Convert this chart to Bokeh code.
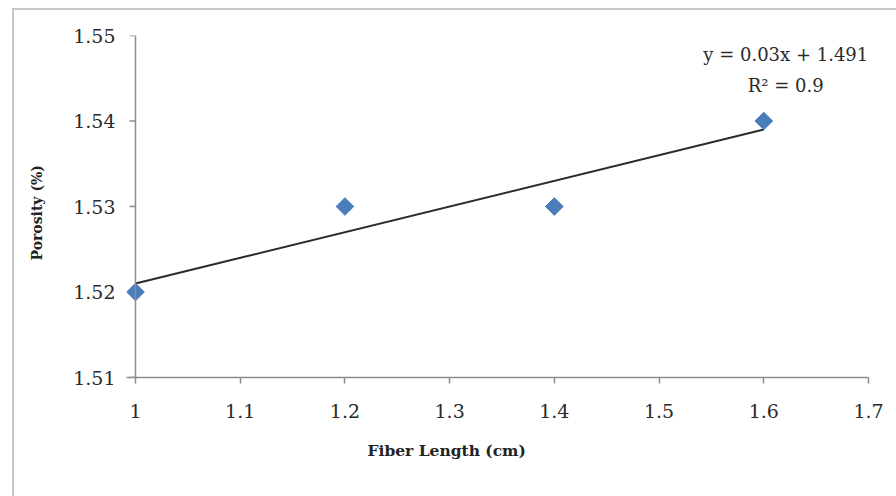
import numpy as np
from bokeh.plotting import figure
from bokeh.models import FixedTicker, Label, Title, Span
from bokeh.embed import file_html
from bokeh.resources import INLINE

fiber_length = [1.0, 1.2, 1.4, 1.6]
porosity = [1.52, 1.53, 1.53, 1.54]
x_ticks = [1.0, 1.1, 1.2, 1.3, 1.4, 1.5, 1.6, 1.7]
x_tick_labels = ["1", "1.1", "1.2", "1.3", "1.4", "1.5", "1.6", "1.7"]
y_ticks = [1.51, 1.52, 1.53, 1.54, 1.55]
y_tick_labels = ["1.51", "1.52", "1.53", "1.54", "1.55"]
equation_text = "y = 0.03x + 1.491"
r2_text = "R\u00b2 = 0.9"
x_title = "Fiber Length (cm)"
y_title = "Porosity (%)"

FONT = "DejaVu Serif"
BOX = "#c8c8c8"
AXIS = "#8c8c8c"

# a few pixels of room left of x=1 so the first marker is not cut by the frame
px = 0.7 / 733
x_pad = 9 * px

p = figure(width=896, height=496, output_backend="svg", toolbar_location=None,
           x_range=(x_ticks[0] - x_pad, x_ticks[-1]), y_range=(y_ticks[0], y_ticks[-1]),
           styles={"background": (f"linear-gradient({BOX},{BOX}) 12px 8px / 2px 100% no-repeat, "
                                  f"linear-gradient({BOX},{BOX}) 12px 8px / 100% 2px no-repeat, white")},
           min_border_left=126, min_border_right=28, min_border_top=35, min_border_bottom=119)
p.background_fill_color = "white"
p.border_fill_color = None
p.outline_line_color = None
p.grid.visible = False

for ax, ticks, labels in ((p.xaxis[0], x_ticks, x_tick_labels), (p.yaxis[0], y_ticks, y_tick_labels)):
    ax.ticker = FixedTicker(ticks=ticks)
    ax.major_label_overrides = {t: l for t, l in zip(ticks, labels)}
    ax.axis_line_color = AXIS
    ax.axis_line_width = 1.5
    ax.major_tick_line_color = AXIS
    ax.major_tick_line_width = 1.5
    ax.major_tick_in = 0
    ax.major_tick_out = 6
    ax.minor_tick_line_color = None
    ax.major_label_text_font = FONT
    ax.major_label_text_font_size = "19px"
    ax.major_label_text_color = "#2a2a2a"
p.xaxis.major_label_standoff = 20
# y axis: labels from the axis, line and ticks drawn at x = 1
p.yaxis.axis_line_color = None
p.yaxis.major_tick_line_color = None
p.yaxis.major_label_standoff = 5

p.add_layout(Span(location=x_ticks[0], dimension="height", line_color=AXIS, line_width=1.5))
p.segment(x0=[x_ticks[0] - 6 * px] * len(y_ticks), x1=[x_ticks[0]] * len(y_ticks),
          y0=y_ticks, y1=y_ticks, line_color=AXIS, line_width=1.5)

# trend line from least squares fit
slope, intercept = np.polyfit(fiber_length, porosity, 1)
xs = np.array([min(fiber_length), max(fiber_length)])
p.line(xs, slope * xs + intercept, line_color="#2b2b2b", line_width=2)

p.scatter(fiber_length, porosity, marker="square", size=12.5, angle=np.pi / 4,
          fill_color="#4a7ebb", line_color="#4a7ebb")

p.add_layout(Label(x=1.621, y=1.5478, text=equation_text, text_font=FONT,
                   text_font_size="18px", text_color="#2a2a2a",
                   text_align="center", text_baseline="middle"))
p.add_layout(Label(x=1.621, y=1.5441, text=r2_text, text_font=FONT,
                   text_font_size="18px", text_color="#2a2a2a",
                   text_align="center", text_baseline="middle"))

p.add_layout(Title(text=x_title, align="left", offset=241, standoff=36,
                   text_font=FONT, text_font_size="15.5px", text_font_style="bold",
                   text_color="#222222"), "below")
p.add_layout(Title(text=y_title, align="left", offset=117, standoff=51,
                   text_font=FONT, text_font_size="14px", text_font_style="bold",
                   text_color="#222222"), "left")

open("out.html", "w").write(file_html(p, INLINE))
